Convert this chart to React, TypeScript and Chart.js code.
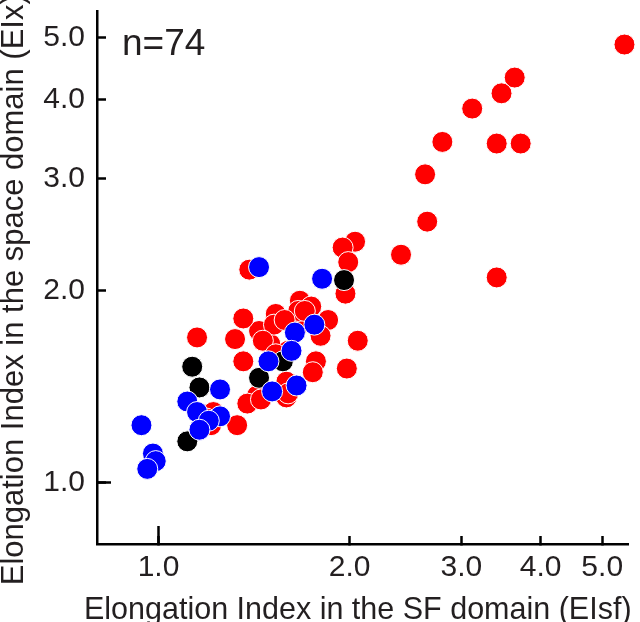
import { useEffect, useRef } from "react";
import { Chart, registerables } from "chart.js";

Chart.register(...registerables);

const xTickValues = [1, 2, 3, 4, 5];
const yTickValues = [1, 2, 3, 4, 5];
const majorTickValues = [1];
const xTitle = "Elongation Index in the SF domain (EIsf)";
const yTitle = "Elongation Index in the space domain (EIx)";
const nLabel = "n=74";

const redPoints = [
  [5.42, 4.88], [3.64, 4.33], [3.47, 4.09], [3.12, 3.87], [2.8, 3.43],
  [3.41, 3.41], [3.72, 3.41], [2.63, 3.05], [2.65, 2.57], [2.41, 2.28],
  [3.41, 2.1], [2.04, 2.39], [1.95, 2.34], [1.99, 2.22], [1.97, 1.98],
  [2.06, 1.67], [1.98, 1.51], [1.85, 1.8], [1.67, 1.93], [1.74, 1.89],
  [1.53, 1.84], [1.66, 1.82], [1.68, 1.78], [1.44, 1.73], [1.5, 1.65],
  [1.6, 1.61], [1.77, 1.55], [1.75, 1.49], [1.59, 1.44], [1.59, 1.36],
  [1.43, 1.37], [1.38, 1.33], [1.36, 1.55], [1.33, 1.23], [1.22, 1.29],
  [1.21, 1.23], [1.15, 1.69], [1.32, 1.68], [1.36, 1.81], [1.39, 2.16],
  [1.52, 1.77], [1.66, 1.86], [1.7, 1.86], [1.58, 1.8], [1.46, 1.67],
  [1.8, 1.7], [1.19, 1.26], [1.53, 1.59], [1.6, 1.38], [1.45, 1.35],
];

const bluePoints = [
  [1.44, 2.18], [1.81, 2.09], [1.76, 1.77], [1.64, 1.72], [1.62, 1.61],
  [1.49, 1.55], [1.65, 1.42], [1.51, 1.39], [1.25, 1.4], [1.11, 1.34],
  [1.15, 1.29], [1.25, 1.27], [1.2, 1.25], [1.16, 1.21], [0.94, 1.23],
  [0.98, 1.11], [0.99, 1.08], [0.96, 1.05],
];

const blackPoints = [
  [1.96, 2.08], [1.57, 1.55], [1.44, 1.46], [1.13, 1.52], [1.16, 1.41],
  [1.11, 1.16],
];

const FONT = '"Liberation Sans", Arial, Helvetica, sans-serif';
const TEXT = "#231f20";

const toXY = (pts: number[][]) => pts.map(([x, y]) => ({ x, y }));

const titlePlugin = {
  id: "titles",
  afterDraw(chart: any) {
    const ctx: CanvasRenderingContext2D = chart.ctx;
    const area = chart.chartArea;
    ctx.save();
    ctx.fillStyle = TEXT;
    ctx.textBaseline = "alphabetic";
    ctx.textAlign = "center";
    ctx.font = `30.5px ${FONT}`;
    ctx.fillText(xTitle, (area.left + area.right) / 2 - 5, area.bottom + 75);
    ctx.save();
    ctx.translate(area.left - 74, (area.top + area.bottom) / 2 + 12);
    ctx.rotate(-Math.PI / 2);
    ctx.font = `31px ${FONT}`;
    ctx.fillText(yTitle, 0, 0);
    ctx.restore();
    ctx.textAlign = "left";
    ctx.font = `37px ${FONT}`;
    ctx.fillText(nLabel, area.left + 25, area.top + 43);
    ctx.restore();
  },
};

export default function App() {
  const ref = useRef<HTMLCanvasElement | null>(null);

  useEffect(() => {
    document.body.style.margin = "0";
    if (!ref.current) return;
    const pointCommon = {
      pointRadius: 10.5,
      pointBorderColor: "#ffffff",
      pointBorderWidth: 1,
      showLine: false,
      clip: false as const,
    };
    const majorScale = (position: "bottom" | "left", len: number) => ({
      type: "logarithmic" as const,
      position,
      min: 0.8,
      max: 5.5,
      weight: 0,
      grid: {
        display: true,
        drawOnChartArea: false,
        drawTicks: true,
        tickLength: -len,
        tickWidth: 2.5,
        tickColor: "#000",
      },
      border: { display: false },
      ticks: { display: false },
      afterBuildTicks: (scale: any) => {
        scale.ticks = majorTickValues.map((v) => ({ value: v }));
      },
      afterFit: (scale: any) => {
        if (position === "bottom") scale.height = 0;
        else scale.width = 0;
        scale.paddingTop = 0;
        scale.paddingBottom = 0;
        scale.paddingLeft = 0;
        scale.paddingRight = 0;
      },
    });
    const chart = new Chart(ref.current, {
      type: "scatter",
      data: {
        datasets: [
          { label: "red", data: toXY(redPoints), pointBackgroundColor: "#ff0000", order: 3, ...pointCommon },
          { label: "black", data: toXY(blackPoints), pointBackgroundColor: "#000000", order: 2, ...pointCommon },
          { label: "blue", data: toXY(bluePoints), pointBackgroundColor: "#0000ff", order: 1, ...pointCommon },
        ],
      },
      options: {
        animation: false,
        responsive: true,
        maintainAspectRatio: false,
        devicePixelRatio: 1,
        events: [],
        layout: { padding: { top: 9, right: 8, left: 0, bottom: 0 } },
        plugins: { legend: { display: false }, tooltip: { enabled: false } },
        scales: {
          x: {
            type: "logarithmic",
            position: "bottom",
            weight: 1,
            min: 0.8,
            max: 5.5,
            grid: {
              display: true,
              drawOnChartArea: false,
              drawTicks: true,
              tickLength: -8,
              tickWidth: 2.5,
              tickColor: "#000",
            },
            border: { display: true, color: "#000", width: 2.5 },
            afterBuildTicks: (scale: any) => {
              scale.ticks = xTickValues.map((v) => ({ value: v }));
            },
            afterFit: (scale: any) => {
              scale.height = 78;
              scale.paddingLeft = 0;
              scale.paddingRight = 0;
            },
            ticks: {
              autoSkip: false,
              maxRotation: 0,
              padding: 14,
              color: TEXT,
              font: { family: FONT, size: 30 },
              callback: (v: any) => Number(v).toFixed(1),
            },
          },
          y: {
            type: "logarithmic",
            position: "left",
            weight: 1,
            min: 0.8,
            max: 5.5,
            grid: {
              display: true,
              drawOnChartArea: false,
              drawTicks: true,
              tickLength: -9,
              tickWidth: 2.5,
              tickColor: "#000",
            },
            border: { display: true, color: "#000", width: 2.5 },
            afterBuildTicks: (scale: any) => {
              scale.ticks = yTickValues.map((v) => ({ value: v }));
            },
            afterFit: (scale: any) => {
              scale.width = 97;
              scale.paddingTop = 0;
              scale.paddingBottom = 0;
            },
            ticks: {
              autoSkip: false,
              padding: 21,
              color: TEXT,
              font: { family: FONT, size: 30 },
              callback: (v: any) => Number(v).toFixed(1),
            },
          },
          xMajor: majorScale("bottom", 18),
          yMajor: majorScale("left", 14),
        },
      },
      plugins: [titlePlugin],
    });
    return () => chart.destroy();
  }, []);

  return (
    <div style={{ position: "relative", width: 640, height: 622 }}>
      <canvas ref={ref} />
    </div>
  );
}
